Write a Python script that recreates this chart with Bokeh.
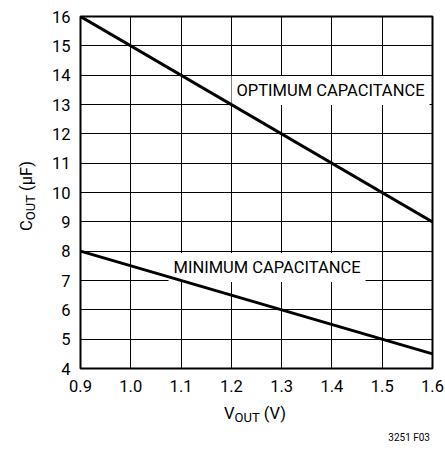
from bokeh.plotting import figure
from bokeh.models import Range1d, FixedTicker, Label, Div
from bokeh.layouts import row, column
from bokeh.embed import file_html
from bokeh.resources import INLINE

# ---- data ----
vout = [0.9, 1.6]
c_optimum = [16, 9]
c_minimum = [8, 4.5]
x_ticks = [0.9, 1.0, 1.1, 1.2, 1.3, 1.4, 1.5, 1.6]
x_tick_labels = ["0.9", "1.0", "1.1", "1.2", "1.3", "1.4", "1.5", "1.6"]
y_ticks = [4, 5, 6, 7, 8, 9, 10, 11, 12, 13, 14, 15, 16]
series_labels = ["OPTIMUM CAPACITANCE", "MINIMUM CAPACITANCE"]
x_title = ("V", "OUT", " (V)")
y_title = ("C", "OUT", " (\u00b5F)")
footer = "3251 F03"

FONT = "Roboto"
X0, X1, Y0, Y1 = 0.9, 1.6, 4, 16
LEFT_DIV = 40                      # width of the y-title strip
FL, FT, FW, FH = 80, 16, 352, 352  # frame position in page pixels

p = figure(width=405, height=400, output_backend="svg", toolbar_location=None,
           x_range=Range1d(X0, X1), y_range=Range1d(Y0, Y1),
           min_border_left=FL - LEFT_DIV, min_border_right=13,
           min_border_top=FT, min_border_bottom=400 - FT - FH, margin=0)
p.background_fill_color = "white"
p.border_fill_color = "white"
p.outline_line_color = "black"
p.outline_line_width = 2

for ax in (p.xaxis, p.yaxis):
    ax.axis_line_color = None
    ax.major_tick_line_color = None
    ax.minor_tick_line_color = None
    ax.major_tick_out = 0
    ax.major_tick_in = 0
    ax.minor_tick_out = 0
    ax.major_label_text_font = FONT
    ax.major_label_text_font_size = "16.5px"
    ax.major_label_text_color = "black"
p.xaxis.ticker = FixedTicker(ticks=x_ticks)
p.xaxis.major_label_overrides = {t: l for t, l in zip(x_ticks, x_tick_labels)}
p.xaxis.major_label_standoff = 11
p.yaxis.ticker = FixedTicker(ticks=y_ticks)
p.yaxis.major_label_standoff = 10

p.xgrid.ticker = FixedTicker(ticks=x_ticks)
p.ygrid.ticker = FixedTicker(ticks=y_ticks)
for g in (p.xgrid, p.ygrid):
    g.grid_line_color = "black"
    g.grid_line_width = 1
    g.grid_line_alpha = 1


def dx(px):  # page pixel -> data x
    return X0 + (px - FL) / FW * (X1 - X0)


def dy(py):  # page pixel -> data y
    return Y0 + (FT + FH - py) / FH * (Y1 - Y0)


# label boxes sit above the grid but beneath the curves
for text, (px, py) in zip(series_labels, [(231, 90), (168, 267)]):
    p.add_layout(Label(x=dx(px), y=dy(py), text=text, text_font=FONT,
                       text_font_size="16.5px", text_color="black",
                       text_align="left", text_baseline="middle",
                       background_fill_color="white", padding=5,
                       level="underlay"))

p.line(vout, c_optimum, line_color="black", line_width=3)
p.line(vout, c_minimum, line_color="black", line_width=3)

SUB = '<span style="font-size:13px;position:relative;top:3px;">%s</span>'

ydiv = Div(width=LEFT_DIV, height=400, margin=0, text=(
    '<div style="position:relative;width:%dpx;height:400px;">'
    '<span style="position:absolute;left:27px;top:196px;white-space:nowrap;'
    'font-family:Roboto;font-size:16.5px;color:black;line-height:18px;'
    'transform:translate(-50%%,-50%%) rotate(-90deg);">%s%s%s</span></div>'
    % (LEFT_DIV, y_title[0], SUB % y_title[1], y_title[2])))

xdiv = Div(width=405, height=48, margin=0, text=(
    '<div style="position:relative;width:405px;height:48px;">'
    '<span style="position:absolute;left:%dpx;top:14px;white-space:nowrap;'
    'font-family:Roboto;font-size:16.5px;color:black;line-height:18px;'
    'transform:translate(-50%%,-50%%);">%s%s%s</span>'
    '<span style="position:absolute;right:%dpx;top:38px;white-space:nowrap;'
    'font-family:Roboto;font-size:10px;color:black;line-height:12px;'
    'transform:translateY(-50%%);">%s</span></div>'
    % (255 - LEFT_DIV, x_title[0], SUB % x_title[1], x_title[2], 405 - (430 - LEFT_DIV), footer)))

layout = row(ydiv, column(p, xdiv, spacing=0), spacing=0)
open("out.html", "w").write(file_html(layout, INLINE))
